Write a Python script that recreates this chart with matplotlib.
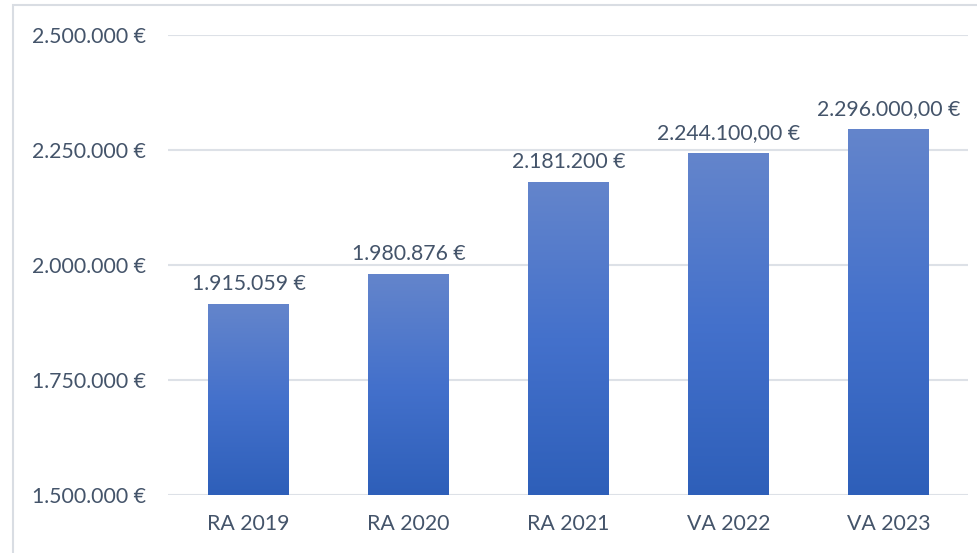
import matplotlib
matplotlib.use("Agg")
import matplotlib.pyplot as plt
import numpy as np
from matplotlib.colors import LinearSegmentedColormap
from matplotlib.patches import Rectangle
from matplotlib.ticker import FixedLocator

categories = ["RA 2019", "RA 2020", "RA 2021", "VA 2022", "VA 2023"]
values = [1915059, 1980876, 2181200, 2244100, 2296000]
value_labels = ["1.915.059 €", "1.980.876 €", "2.181.200 €", "2.244.100,00 €", "2.296.000,00 €"]
yticks = [1500000, 1750000, 2000000, 2250000, 2500000]
ytick_labels = ["1.500.000 €", "1.750.000 €", "2.000.000 €", "2.250.000 €", "2.500.000 €"]

W, H = 978, 553
fig = plt.figure(figsize=(W / 100, H / 100), dpi=100)
fig.patch.set_facecolor("white")

# outer chart-area border (clipped at right/bottom like the reference)
fig.patches.append(Rectangle((13 / W, -0.1), 1.2, 1.1 - 5.5 / H, transform=fig.transFigure,
                             fill=False, edgecolor="#d9dde3", linewidth=1.5, zorder=0))

ax = fig.add_axes([168.5 / W, 1 - 495 / H, 800 / W, 460 / H])

text_color = "#44546a"
font = "Lato"
fs = 15.3

x = np.arange(len(categories))
bars = ax.bar(x, [v - 1500000 for v in values], bottom=1500000, width=0.505,
              color="none", edgecolor="none", zorder=3)

cmap = LinearSegmentedColormap.from_list("g", ["#2e5fb9", "#4471cc", "#6485cb"])
grad = np.linspace(0, 1, 256).reshape(-1, 1)
for b in bars:
    x0, y0 = b.get_x(), b.get_y()
    w, h = b.get_width(), b.get_height()
    im = ax.imshow(grad, cmap=cmap, aspect="auto", origin="lower",
                   extent=(x0, x0 + w, y0, y0 + h), zorder=3)
    im.set_clip_path(b)

ax.set_xlim(-0.5, 4.5)
ax.set_ylim(1500000, 2500000)

for xi, v, lab in zip(x, values, value_labels):
    ax.annotate(lab, (xi, v), xytext=(0, 7), textcoords="offset points",
                ha="center", va="bottom", fontsize=fs, color=text_color, family=font)

ax.yaxis.set_major_locator(FixedLocator(yticks))
ax.set_yticklabels(ytick_labels)
ax.set_xticks(x)
ax.set_xticklabels(categories)
ax.tick_params(axis="both", length=0, labelsize=fs, labelcolor=text_color)
ax.tick_params(axis="y", pad=16.5)
ax.tick_params(axis="x", pad=14)
for lbl in ax.get_xticklabels() + ax.get_yticklabels():
    lbl.set_family(font)

ax.grid(axis="y", color="#dde1e7", linewidth=1.5, zorder=0)
ax.set_axisbelow(True)
for s in ax.spines.values():
    s.set_visible(False)

fig.savefig("out.png", dpi=100, facecolor="white")
